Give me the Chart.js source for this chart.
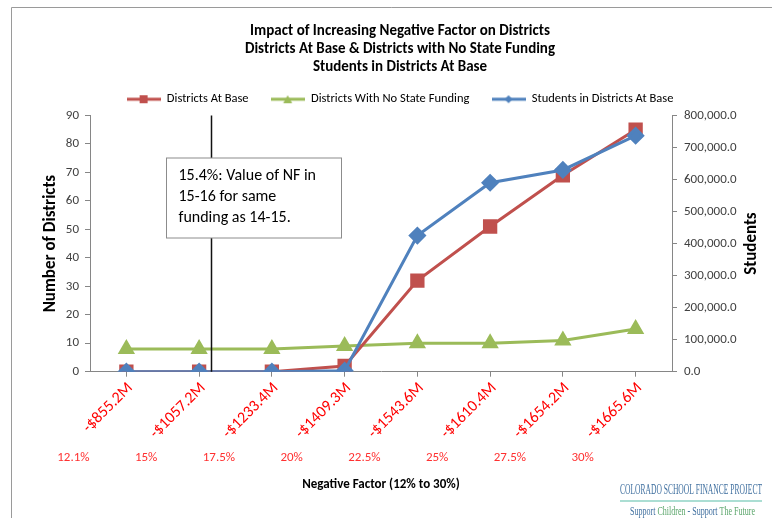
<!DOCTYPE html>
<html>
<head>
<meta charset="utf-8">
<script src="https://cdn.jsdelivr.net/npm/chart.js@4.4.0/dist/chart.umd.min.js"></script>
<style>
  html, body { margin: 0; padding: 0; background: #fff; }
</style>
</head>
<body>
<canvas id="nfChart" width="772" height="518"></canvas>
<script>
// Cost of each negative factor step (x axis) and the factor itself
const costLabels = ['-$855.2M', '-$1057.2M', '-$1233.4M', '-$1409.3M', '-$1543.6M', '-$1610.4M', '-$1654.2M', '-$1665.6M'];
const pctLabels = ['12.1%', '15%', '17.5%', '20%', '22.5%', '25%', '27.5%', '30%'];

// Series
const districtsAtBase = [0, 0, 0, 2, 32, 51, 69, 85];
const noStateFunding = [8, 8, 8, 9, 10, 10, 11, 15];
const studentsAtBase = [0, 0, 0, 3000, 425000, 590000, 630000, 737000];

// NF value marked by the vertical line (sits between 15% and 17.5%)
const nfMarkPct = 15.4;

const FONT = '"Carlito", "Lato", sans-serif';
const RED = '#C0504D', GREEN = '#9BBB59', BLUE = '#4F81BD';

Chart.defaults.font.family = FONT;
Chart.defaults.color = '#404040';

// legend icons: short line with the series marker on it
function legendIcon(color, shape) {
  const c = document.createElement('canvas');
  c.width = 34; c.height = 12;
  const g = c.getContext('2d');
  g.strokeStyle = color; g.fillStyle = color; g.lineWidth = 3;
  g.beginPath(); g.moveTo(0, 6); g.lineTo(34, 6); g.stroke();
  g.beginPath();
  if (shape === 'rect') g.rect(13, 2, 8, 8);
  else if (shape === 'triangle') { g.moveTo(17, 2); g.lineTo(21.5, 10); g.lineTo(12.5, 10); g.closePath(); }
  else { g.moveTo(17, 2); g.lineTo(21, 6); g.lineTo(17, 10); g.lineTo(13, 6); g.closePath(); }
  g.fill();
  return c;
}
const icons = [legendIcon(RED, 'rect'), legendIcon(GREEN, 'triangle'), legendIcon(BLUE, 'diamond')];

const frame = {
  id: 'frame',
  beforeDraw(chart) {
    const ctx = chart.ctx;
    ctx.save();
    ctx.fillStyle = '#fff';
    ctx.fillRect(0, 0, chart.width, chart.height);
    ctx.strokeStyle = '#9a9a9a';
    ctx.lineWidth = 1;
    ctx.beginPath();
    ctx.moveTo(11.5, chart.height); ctx.lineTo(11.5, 7.5); ctx.lineTo(chart.width, 7.5);
    ctx.stroke();
    ctx.restore();
  }
};

const extras = {
  id: 'extras',
  afterDatasetsDraw(chart) {
    const ctx = chart.ctx;
    const a = chart.chartArea;
    const x = chart.scales.x;
    const y = chart.scales.y;

    // vertical marker line
    const pos = 1 + (nfMarkPct - 15) / (17.5 - 15);
    const px = Math.round(x.getPixelForValue(pos)) + 0.5;
    ctx.save();
    ctx.strokeStyle = '#111';
    ctx.lineWidth = 1.5;
    ctx.beginPath();
    ctx.moveTo(px, a.top);
    ctx.lineTo(px, y.getPixelForValue(0));
    ctx.stroke();

    // note box
    const bx = a.left + 76.5, by = a.top + 42.5, bw = 175, bh = 80;
    ctx.fillStyle = '#fff';
    ctx.fillRect(bx, by, bw, bh);
    ctx.strokeStyle = '#8c8c8c';
    ctx.lineWidth = 1;
    ctx.strokeRect(bx, by, bw, bh);
    ctx.fillStyle = '#000';
    ctx.font = '16px ' + FONT;
    ctx.textBaseline = 'middle';
    ctx.textAlign = 'left';
    ['15.4%: Value of NF in', '15-16 for same', 'funding as 14-15.'].forEach((t, i) => {
      ctx.fillText(t, bx + 12, by + 18 + i * 21);
    });
    ctx.restore();
  },
  afterDraw(chart) {
    const ctx = chart.ctx;
    const a = chart.chartArea;
    ctx.save();
    // right axis title, reading upward
    ctx.translate(752, (a.top + a.bottom) / 2);
    ctx.rotate(-Math.PI / 2);
    ctx.font = 'bold 17px ' + FONT;
    ctx.fillStyle = '#000';
    ctx.textAlign = 'center';
    ctx.textBaseline = 'middle';
    ctx.fillText('Students', 0, 0);
    ctx.restore();

    // logo text
    ctx.save();
    ctx.textBaseline = 'middle';
    ctx.textAlign = 'left';
    ctx.font = '14px "Liberation Serif", serif';
    ctx.fillStyle = '#3f6f9f';
    ctx.fillText('COLORADO SCHOOL FINANCE PROJECT', 620, 490, 142);
    ctx.strokeStyle = '#8fd3c4';
    ctx.lineWidth = 1.5;
    ctx.beginPath(); ctx.moveTo(620, 501); ctx.lineTo(762, 501); ctx.stroke();
    const parts = [['Support ', '#3f6f9f'], ['Children', '#5aa56a'], [' - Support ', '#3f6f9f'], ['The Future', '#5aa56a']];
    ctx.font = '12px "Liberation Serif", serif';
    const total = parts.reduce((s, p) => s + ctx.measureText(p[0]).width, 0);
    const k = 125 / total;
    ctx.translate(630, 512);
    ctx.scale(k, 1);
    let cx = 0;
    parts.forEach(p => {
      ctx.fillStyle = p[1];
      ctx.fillText(p[0], cx, 0);
      cx += ctx.measureText(p[0]).width;
    });
    ctx.restore();
  }
};

const gap = '     ';
const ctx = document.getElementById('nfChart').getContext('2d');
new Chart(ctx, {
  type: 'line',
  data: {
    labels: costLabels,
    datasets: [{
      label: 'Districts At Base',
      data: districtsAtBase,
      yAxisID: 'y',
      borderColor: RED,
      backgroundColor: RED,
      borderWidth: 3,
      pointStyle: 'rect',
      pointRadius: 8,
      order: 1
    }, {
      label: 'Districts With No State Funding',
      data: noStateFunding,
      yAxisID: 'y',
      borderColor: GREEN,
      backgroundColor: GREEN,
      borderWidth: 3,
      pointStyle: 'triangle',
      pointRadius: 7,
      order: 2
    }, {
      label: 'Students in Districts At Base',
      data: studentsAtBase,
      yAxisID: 'y1',
      borderColor: BLUE,
      backgroundColor: BLUE,
      borderWidth: 3,
      pointStyle: 'rectRot',
      pointRadius: 7,
      order: 0
    }]
  },
  options: {
    responsive: false,
    animation: false,
    layout: { padding: { top: 8, left: 28, right: 0, bottom: 0 } },
    plugins: {
      title: {
        display: true,
        text: ['Impact of Increasing Negative Factor on Districts', 'Districts At Base & Districts with No State Funding', 'Students in Districts At Base'],
        font: { size: 15, weight: 'bold', lineHeight: 1.2 },
        color: '#000',
        padding: { top: 14, bottom: 9 }
      },
      legend: {
        position: 'top',
        labels: {
          usePointStyle: true,
          pointStyleWidth: 34,
          boxHeight: 12,
          font: { size: 12.5 },
          color: '#000',
          padding: 8,
          generateLabels(chart) {
            const items = Chart.defaults.plugins.legend.labels.generateLabels(chart);
            items.sort((p, q) => p.datasetIndex - q.datasetIndex);
            items.forEach((it, i) => {
              it.pointStyle = icons[it.datasetIndex];
              if (i < items.length - 1) it.text += gap;
            });
            return items;
          }
        }
      },
      tooltip: { enabled: false }
    },
    scales: {
      x: {
        type: 'category',
        offset: true,
        grid: { drawOnChartArea: false, tickLength: 5, color: '#868686' },
        border: { color: '#868686' },
        ticks: { color: '#FF0000', font: { size: 16 }, minRotation: 45, maxRotation: 45, padding: 2, labelOffset: 4, autoSkip: false },
        afterFit(s) { s.height = 68; }
      },
      x2: {
        type: 'category',
        labels: pctLabels,
        offset: true,
        position: 'bottom',
        grid: { display: false },
        border: { display: false },
        ticks: { color: '#FF3030', font: { size: 13 }, labelOffset: -53, maxRotation: 0, autoSkip: false, padding: 2 },
        title: { display: true, text: 'Negative Factor (12% to 30%)', font: { size: 13, weight: 'bold' }, color: '#000', padding: { top: 0, bottom: 25 } },
        afterFit(s) { s.height = 78.3; }
      },
      y: {
        position: 'left',
        min: 0,
        max: 90,
        ticks: { stepSize: 10, font: { size: 13 }, color: '#404040', padding: 6 },
        grid: { drawOnChartArea: false, tickLength: 5, color: '#868686' },
        border: { color: '#868686' },
        title: { display: true, text: 'Number of Districts', font: { size: 17, weight: 'bold' }, color: '#000', padding: { top: 13, bottom: 0 } },
        afterFit(s) { s.width = 62; }
      },
      y1: {
        position: 'right',
        min: 0,
        max: 800000,
        ticks: {
          stepSize: 100000,
          font: { size: 13 },
          color: '#404040',
          padding: 7,
          callback: v => v.toLocaleString('en-US', { minimumFractionDigits: 1, maximumFractionDigits: 1 })
        },
        grid: { drawOnChartArea: false, tickLength: 5, color: '#868686' },
        border: { color: '#868686' },
        afterFit(s) { s.width = 100; }
      }
    }
  },
  plugins: [frame, extras]
});
</script>
</body>
</html>
